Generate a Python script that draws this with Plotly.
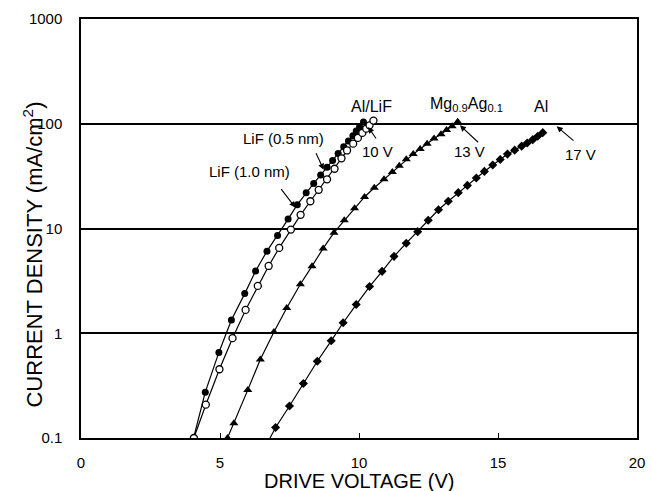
import plotly.graph_objects as go

# ---- data ----
lif05_v = [4.05, 4.47, 4.96, 5.41, 5.89, 6.28, 6.69, 7.07, 7.45, 7.78, 8.10, 8.37, 8.62, 8.85,
           9.05, 9.25, 9.45, 9.62, 9.78, 9.90, 10.02, 10.16]
lif05_j = [0.1, 0.274, 0.656, 1.34, 2.39, 3.93, 6.08, 8.57, 12.3, 16.9, 22.0, 26.9, 32.4, 38.5,
           44.7, 51.9, 60.3, 68.4, 76.7, 85.1, 93.3, 103.8]

lif10_v = [4.06, 4.49, 4.98, 5.45, 5.92, 6.36, 6.75, 7.13, 7.55, 7.90, 8.25, 8.55, 8.85, 9.12,
           9.37, 9.57, 9.79, 9.96, 10.12, 10.26, 10.38, 10.52]
lif10_j = [0.1, 0.208, 0.453, 0.897, 1.67, 2.83, 4.39, 6.53, 9.77, 13.5, 18.2, 23.4, 29.5, 37.2,
           46.8, 55.6, 64.6, 73.3, 81.7, 89.7, 96.6, 107.2]

mgag_v = [5.27, 5.50, 6.00, 6.45, 6.94, 7.40, 7.89, 8.31, 8.71, 9.10, 9.47, 9.84, 10.20, 10.55,
          10.90, 11.20, 11.45, 11.70, 11.95, 12.20, 12.45, 12.70, 12.95, 13.15, 13.35, 13.55]
mgag_j = [0.1, 0.138, 0.288, 0.562, 1.03, 1.74, 2.94, 4.37, 6.46, 9.12, 11.97, 15.6, 20.0, 24.5,
          29.5, 34.7, 39.8, 45.7, 51.3, 57.5, 64.6, 72.4, 79.4, 87.1, 94.4, 104.7]

al_v = [6.80, 7.00, 7.50, 8.00, 8.50, 9.00, 9.43, 9.90, 10.38, 10.83, 11.26, 11.70, 12.11, 12.49,
        12.86, 13.21, 13.57, 13.90, 14.22, 14.51, 14.81, 15.08, 15.34, 15.60, 15.85, 16.05,
        16.25, 16.43, 16.61]
al_j = [0.1, 0.126, 0.202, 0.331, 0.54, 0.847, 1.26, 1.88, 2.79, 3.90, 5.42, 7.24, 9.33, 11.97,
        15.1, 18.2, 22.0, 25.8, 30.3, 35.1, 40.4, 45.6, 51.3, 56.0, 61.1, 65.6, 70.5, 76.0, 82.2]

x_ticks = [0, 5, 10, 15, 20]
y_tickvals = [0.1, 1, 10, 100, 1000]
y_ticktext = ["0.1", "1", "10", "100", "1000"]

FONT = "Liberation Sans, Arial, sans-serif"

fig = go.Figure()
line = dict(color="black", width=1.2)
fig.add_trace(go.Scatter(x=lif05_v, y=lif05_j, mode="lines+markers", line=line,
                         marker=dict(symbol="circle", size=7, color="black"), name="LiF (0.5 nm)"))
fig.add_trace(go.Scatter(x=lif10_v, y=lif10_j, mode="lines+markers", line=line,
                         marker=dict(symbol="circle", size=7, color="white",
                                     line=dict(color="black", width=1.3)), name="LiF (1.0 nm)"))
fig.add_trace(go.Scatter(x=mgag_v, y=mgag_j, mode="lines+markers", line=line,
                         marker=dict(symbol="triangle-up", size=8, color="black"), name="MgAg"))
fig.add_trace(go.Scatter(x=al_v, y=al_j, mode="lines+markers", line=line,
                         marker=dict(symbol="diamond", size=7, color="black",
                                     opacity=[0] + [1] * (len(al_v) - 1)), name="Al"))

ann = []
def txt(x, ly, s, size=15):
    ann.append(dict(x=x, y=ly, xref="x", yref="y", text=s, showarrow=False,
                    xanchor="center", yanchor="middle",
                    font=dict(family=FONT, size=size, color="black")))
def arrow(x, ly, ax, ay):
    ann.append(dict(x=x, y=ly, xref="x", yref="y", ax=ax, ay=ay, axref="x", ayref="y",
                    text="", showarrow=True, arrowhead=2, arrowsize=1.1, arrowwidth=1.1,
                    arrowcolor="black"))

txt(10.44, 2.167, "Al/LiF", 16)
txt(13.88, 2.186, "Mg<sub>0.9</sub>Ag<sub>0.1</sub>", 16)
txt(16.54, 2.167, "Al", 16)
txt(10.65, 1.732, "10 V")
txt(13.98, 1.732, "13 V")
txt(17.95, 1.704, "17 V")
txt(7.30, 1.858, "LiF (0.5 nm)")
txt(6.06, 1.542, "LiF (1.0 nm)")
arrow(8.73, 1.561, 8.43, 1.732)
arrow(7.71, 1.20, 7.16, 1.39)
arrow(10.33, 1.968, 10.65, 1.845)
arrow(13.63, 1.985, 14.34, 1.81)
arrow(17.11, 1.975, 17.77, 1.827)

ann.append(dict(x=-0.087, y=0.437, xref="paper", yref="paper", textangle=-90,
                xanchor="center", yanchor="middle",
                text="CURRENT DENSITY (mA/cm<sup>2</sup>)", showarrow=False,
                font=dict(family=FONT, size=22, color="black")))
ann.append(dict(x=0.5, y=-0.102, xref="paper", yref="paper",
                xanchor="center", yanchor="middle",
                text="DRIVE VOLTAGE (V)", showarrow=False,
                font=dict(family=FONT, size=20, color="black")))

fig.update_layout(
    width=652, height=491,
    margin=dict(l=81, r=7, t=19, b=53),
    paper_bgcolor="white", plot_bgcolor="white",
    showlegend=False,
    annotations=ann,
    font=dict(family=FONT, size=15, color="black"),
)
fig.update_xaxes(range=[0, 20], tickvals=x_ticks, ticks="inside", ticklen=5, tickcolor="black",
                 showline=True, linecolor="black", linewidth=1.5, mirror=True,
                 showgrid=False, zeroline=False, ticklabelstandoff=10,
                 tickfont=dict(family=FONT, size=15, color="black"))
fig.update_yaxes(type="log", range=[-1, 3], tickvals=y_tickvals, ticktext=y_ticktext,
                 ticks="", showline=True, linecolor="black", linewidth=1.5, mirror=True,
                 showgrid=True, gridcolor="black", gridwidth=1.5, zeroline=False,
                 ticklabelstandoff=14,
                 tickfont=dict(family=FONT, size=15, color="black"))

fig.write_html("out.html")
